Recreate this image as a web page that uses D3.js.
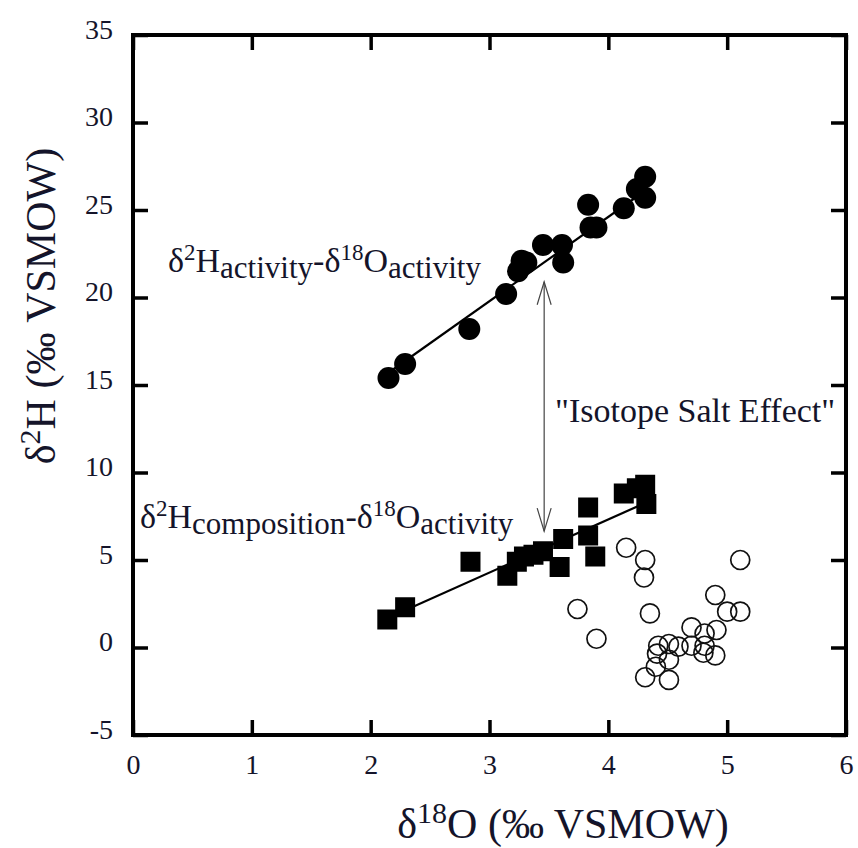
<!DOCTYPE html>
<html><head><meta charset="utf-8">
<script src="https://cdn.jsdelivr.net/npm/d3@7"></script>
<style>body{margin:0;background:#fff}svg{display:block}</style>
</head><body>
<svg id="c" width="858" height="848"></svg>
<script>
// ---- data ----
const xTicks = [0, 1, 2, 3, 4, 5, 6];
const yTicks = [-5, 0, 5, 10, 15, 20, 25, 30, 35];

// δ2H activity vs δ18O activity (filled circles)
const actX = [2.15, 2.29, 2.83, 3.14, 3.24, 3.27, 3.31, 3.45, 3.61, 3.62, 3.83, 3.85, 3.90, 4.13, 4.24, 4.31, 4.31];
const actY = [15.4, 16.2, 18.2, 20.2, 21.5, 22.1, 22.0, 23.0, 23.0, 22.0, 25.3, 24.0, 24.0, 25.1, 26.2, 26.9, 25.7];

// δ2H composition vs δ18O activity (filled squares)
const compX = [2.14, 2.29, 2.84, 3.15, 3.23, 3.29, 3.37, 3.45, 3.59, 3.62, 3.83, 3.83, 3.89, 4.13, 4.24, 4.31, 4.32];
const compY = [1.6, 2.3, 4.9, 4.1, 4.9, 5.2, 5.3, 5.5, 4.6, 6.2, 8.0, 6.4, 5.2, 8.8, 9.1, 9.3, 8.2];

// open circles
const openX = [4.15, 4.31, 4.30, 5.11, 3.74, 4.35, 4.90, 5.00, 5.11, 3.90, 4.70, 4.91, 4.81, 4.42, 4.51, 4.59, 4.70, 4.81, 4.80, 4.90, 4.41, 4.51, 4.40, 4.31, 4.51];
const openY = [5.7, 5.0, 4.0, 5.0, 2.2, 1.95, 3.0, 2.05, 2.05, 0.5, 1.15, 1.0, 0.8, 0.1, 0.2, 0.05, 0.1, 0.1, -0.3, -0.45, -0.35, -0.7, -1.1, -1.7, -1.85];

// regression lines (endpoints)
const fitActX = [2.15, 4.31], fitActY = [15.7, 26.1];
const fitCompX = [2.15, 4.31], fitCompY = [1.7, 8.26];

// double arrow ("Isotope Salt Effect")
const arrowX = [3.46, 3.46], arrowY = [20.9, 6.65];

// ---- drawing ----
const svg = d3.select("#c");
const W = 858, H = 848;
svg.append("rect").attr("width", W).attr("height", H).attr("fill", "#fff");
const FONT = "Liberation Serif, Times New Roman, serif";
const TXT = "#14142a";

const x = d3.scaleLinear().domain([0, 6]).range([133, 846]);
const y = d3.scaleLinear().domain([-5, 35]).range([735, 35]);

// axes
const fmt = d => String(d);
const gB = svg.append("g").attr("transform", `translate(0,${y(-5)})`)
  .call(d3.axisBottom(x).tickValues(xTicks).tickSize(-15).tickPadding(19).tickFormat(fmt));
const gL = svg.append("g").attr("transform", `translate(${x(0)},0)`)
  .call(d3.axisLeft(y).tickValues(yTicks).tickSize(-15).tickPadding(20).tickFormat(fmt));
const gT = svg.append("g").attr("transform", `translate(0,${y(35)})`)
  .call(d3.axisTop(x).tickValues(xTicks).tickSize(-15).tickFormat(""));
const gR = svg.append("g").attr("transform", `translate(${x(6)},0)`)
  .call(d3.axisRight(y).tickValues(yTicks).tickSize(-15).tickFormat(""));
[gB, gL, gT, gR].forEach(g => {
  g.attr("font-family", FONT).attr("font-size", 28);
  g.select(".domain").remove();
  g.selectAll(".tick line").attr("stroke", "#000").attr("stroke-width", 3.5);
  g.selectAll(".tick text").attr("fill", TXT).attr("font-family", FONT).attr("font-size", 28);
});
gL.selectAll(".tick text").attr("dy", "0.12em");

svg.append("rect").attr("x", x(0)).attr("y", y(35))
  .attr("width", x(6) - x(0)).attr("height", y(-5) - y(35))
  .attr("fill", "none").attr("stroke", "#000").attr("stroke-width", 4);

// fit lines
const line = d3.line().x(d => x(d[0])).y(d => y(d[1]));
svg.append("path").attr("d", line(d3.zip(fitActX, fitActY)))
  .attr("stroke", "#000").attr("stroke-width", 2.2).attr("fill", "none");
svg.append("path").attr("d", line(d3.zip(fitCompX, fitCompY)))
  .attr("stroke", "#000").attr("stroke-width", 2.2).attr("fill", "none");

// open circles
svg.append("g").selectAll("circle").data(d3.zip(openX, openY)).join("circle")
  .attr("cx", d => x(d[0])).attr("cy", d => y(d[1])).attr("r", 9.5)
  .attr("fill", "none").attr("stroke", "#111").attr("stroke-width", 1.7);

// filled circles
svg.append("g").selectAll("circle").data(d3.zip(actX, actY)).join("circle")
  .attr("cx", d => x(d[0])).attr("cy", d => y(d[1])).attr("r", 11).attr("fill", "#000");

// filled squares
const S = 20;
svg.append("g").selectAll("rect").data(d3.zip(compX, compY)).join("rect")
  .attr("x", d => x(d[0]) - S / 2).attr("y", d => y(d[1]) - S / 2)
  .attr("width", S).attr("height", S).attr("fill", "#000");

// double arrow
const ax = x(arrowX[0]), ay1 = y(arrowY[0]), ay2 = y(arrowY[1]);
const ag = svg.append("g").attr("stroke", "#444").attr("stroke-width", 1.2).attr("fill", "none");
ag.append("line").attr("x1", ax).attr("x2", ax).attr("y1", ay1).attr("y2", ay2);
ag.append("path").attr("d", `M${ax - 7},${ay1 + 23}L${ax},${ay1}L${ax + 7},${ay1 + 23}`);
ag.append("path").attr("d", `M${ax - 7},${ay2 - 23}L${ax},${ay2}L${ax + 7},${ay2 - 23}`);

// labels with sub/superscripts
function rich(g, parts) {
  const t = g.append("text").attr("font-family", FONT).attr("fill", TXT);
  parts.forEach(p => {
    t.append("tspan").attr("font-size", p[1]).attr("dy", p[2] || 0).text(p[0]);
  });
  return t;
}
const M = 34, P = 23, SB = 31;
rich(svg, [["δ", M], ["2", P, -12], ["H", M, 12], ["activity", SB, 6], ["-δ", M, -6], ["18", P, -12], ["O", M, 12], ["activity", SB, 6]])
  .attr("x", 168).attr("y", 272);
rich(svg, [["δ", M], ["2", P, -12], ["H", M, 12], ["composition", SB, 6], ["-δ", M, -6], ["18", P, -12], ["O", M, 12], ["activity", SB, 6]])
  .attr("x", 140).attr("y", 528);

svg.append("text").attr("x", 555).attr("y", 422).attr("font-family", FONT)
  .attr("font-size", 34).attr("fill", TXT).text("\"Isotope Salt Effect\"");

// axis titles
rich(svg, [["δ", 42], ["18", 30, -15], ["O (‰ VSMOW)", 42, 15]])
  .attr("x", 563).attr("y", 838).attr("text-anchor", "middle");
rich(svg, [["δ", 42], ["2", 30, -15], ["H (‰ VSMOW)", 42, 15]])
  .attr("text-anchor", "middle").attr("transform", "translate(55,306) rotate(-90)");
</script>
</body></html>
